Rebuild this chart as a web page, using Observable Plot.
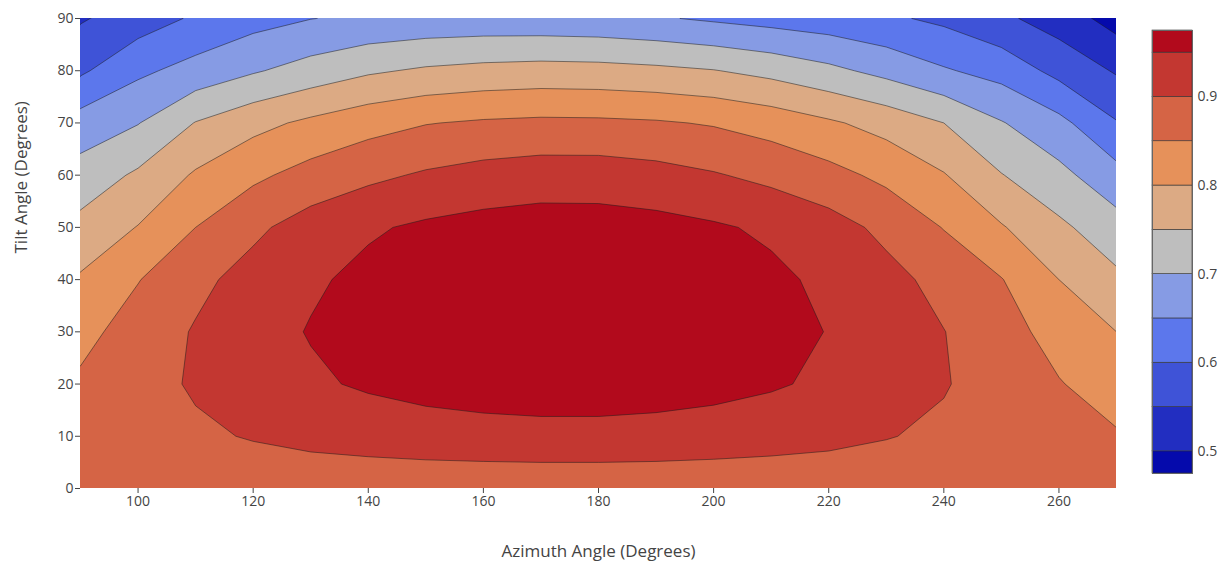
<!DOCTYPE html>
<html>
<head>
<meta charset="utf-8">
<script src="https://cdn.jsdelivr.net/npm/d3@7"></script>
<script src="https://cdn.jsdelivr.net/npm/@observablehq/plot@0.6"></script>
<style>
  body { margin: 0; background: #fff; }
  #chart { position: relative; width: 1221px; height: 564px; font-family: "Open Sans", sans-serif; }
  #chart svg { position: absolute; overflow: visible; }
</style>
</head>
<body>
<div id="chart"></div>
<script>
// Grid axes: azimuth columns and tilt rows
const azimuths = [90, 100, 110, 120, 130, 140, 150, 160, 170, 180, 190, 200, 210, 220, 230, 240, 250, 260, 270];
const tilts = [0, 10, 20, 30, 40, 50, 60, 70, 80, 90];

// Relative yield for each tilt row, one value per azimuth column
const tilt0  = [0.872, 0.872, 0.872, 0.872, 0.872, 0.872, 0.872, 0.872, 0.872, 0.872, 0.872, 0.872, 0.872, 0.872, 0.872, 0.872, 0.872, 0.872, 0.872];
const tilt10 = [0.870, 0.882, 0.893, 0.903, 0.912, 0.918, 0.923, 0.926, 0.928, 0.928, 0.926, 0.922, 0.917, 0.911, 0.902, 0.892, 0.881, 0.868, 0.855];
const tilt20 = [0.858, 0.884, 0.905, 0.925, 0.942, 0.957, 0.970, 0.980, 0.986, 0.986, 0.979, 0.969, 0.956, 0.940, 0.923, 0.903, 0.880, 0.853, 0.825];
const tilt30 = [0.835, 0.872, 0.904, 0.930, 0.953, 0.972, 0.986, 0.995, 0.999, 0.999, 0.994, 0.984, 0.970, 0.948, 0.926, 0.901, 0.871, 0.830, 0.800];
const tilt40 = [0.806, 0.848, 0.888, 0.918, 0.943, 0.962, 0.978, 0.988, 0.992, 0.991, 0.986, 0.976, 0.960, 0.940, 0.915, 0.885, 0.852, 0.800, 0.760];
const tilt50 = [0.765, 0.802, 0.850, 0.890, 0.922, 0.944, 0.958, 0.967, 0.972, 0.971, 0.966, 0.956, 0.942, 0.920, 0.888, 0.848, 0.804, 0.760, 0.720];
const tilt60 = [0.720, 0.758, 0.806, 0.840, 0.868, 0.889, 0.906, 0.918, 0.925, 0.925, 0.917, 0.904, 0.887, 0.866, 0.838, 0.803, 0.752, 0.714, 0.667];
const tilt70 = [0.672, 0.698, 0.752, 0.785, 0.810, 0.832, 0.848, 0.856, 0.860, 0.859, 0.855, 0.846, 0.830, 0.807, 0.782, 0.750, 0.703, 0.664, 0.603];
const tilt80 = [0.592, 0.640, 0.668, 0.695, 0.720, 0.743, 0.757, 0.765, 0.769, 0.767, 0.761, 0.752, 0.735, 0.712, 0.685, 0.655, 0.632, 0.585, 0.545];
const tilt90 = [0.545, 0.575, 0.607, 0.632, 0.649, 0.659, 0.665, 0.667, 0.666, 0.663, 0.655, 0.643, 0.632, 0.622, 0.608, 0.590, 0.560, 0.527, 0.480];

// Contour levels and colour bar extent
const levels = [0.5, 0.55, 0.6, 0.65, 0.7, 0.75, 0.8, 0.85, 0.9, 0.95];
const colorbarRange = [0.475, 0.975];
const colorbarTicks = [0.5, 0.6, 0.7, 0.8, 0.9];
const xTicks = [100, 120, 140, 160, 180, 200, 220, 240, 260];
const yTicks = [0, 10, 20, 30, 40, 50, 60, 70, 80, 90];

// One colour per band, low to high
const palette = ["#050aac", "#222ec1", "#3f53d7", "#5c77ec", "#869be4", "#bebebe",
                 "#dcaa84", "#e6915a", "#d56445", "#c33731", "#b20a1c"];

const rows = [tilt0, tilt10, tilt20, tilt30, tilt40, tilt50, tilt60, tilt70, tilt80, tilt90];
const grid = rows.flat(); // row-major, first row = tilt 0

const thresholds = [colorbarRange[0], ...levels];
const colorScale = {type: "threshold", domain: levels, range: palette};
const azStep = azimuths[1] - azimuths[0];
const tiltStep = tilts[1] - tilts[0];
const ink = "#444";

const main = Plot.plot({
  width: 1221,
  height: 564,
  marginLeft: 80,
  marginRight: 105,
  marginTop: 18,
  marginBottom: 76,
  style: {fontFamily: "'Open Sans', sans-serif", fontSize: "14px", color: ink, background: "transparent"},
  x: {domain: [azimuths[0], azimuths[azimuths.length - 1]]},
  y: {domain: [tilts[0], tilts[tilts.length - 1]]},
  color: colorScale,
  marks: [
    Plot.contour(grid, {
      width: azimuths.length,
      height: tilts.length,
      x1: azimuths[0] - azStep / 2,
      x2: azimuths[azimuths.length - 1] + azStep / 2,
      y1: tilts[0] - tiltStep / 2,
      y2: tilts[tilts.length - 1] + tiltStep / 2,
      fill: Plot.identity,
      thresholds,
      stroke: "#1c1c1c",
      strokeWidth: 0.6,
      strokeOpacity: 0.85,
      clip: true
    }),
    Plot.axisX({ticks: xTicks, tickSize: 5, tickPadding: 3, label: null}),
    Plot.axisY({ticks: yTicks, tickSize: 5, tickPadding: 2, label: null}),
    Plot.text(["Azimuth Angle (Degrees)"], {frameAnchor: "bottom", dy: 63, text: d => d, fontSize: 17, fill: ink, lineAnchor: "middle"}),
    Plot.text(["Tilt Angle (Degrees)"], {frameAnchor: "left", dx: -59, rotate: -90, text: d => d, fontSize: 17, fill: ink, lineAnchor: "middle"})
  ]
});

// Colour bar: one rectangle per band
const bandLow = [colorbarRange[0], ...levels];
const bandHigh = [...levels, colorbarRange[1]];
const bands = bandLow.map((lo, i) => ({lo, hi: bandHigh[i]}));

const bar = Plot.plot({
  width: 81,
  height: 500,
  marginLeft: 12,
  marginRight: 29,
  marginTop: 30,
  marginBottom: 27,
  style: {fontFamily: "'Open Sans', sans-serif", fontSize: "14px", color: ink, background: "transparent", overflow: "visible"},
  x: {domain: [0, 1], axis: null},
  y: {domain: colorbarRange},
  color: colorScale,
  marks: [
    Plot.rect(bands, {x1: 0, x2: 1, y1: "lo", y2: "hi", fill: "lo", stroke: "#333", strokeWidth: 0.6}),
    Plot.frame({stroke: "#666", strokeWidth: 1}),
    Plot.axisY({anchor: "right", ticks: colorbarTicks, tickFormat: d3.format(".1f"), tickSize: 0, tickPadding: 5, label: null})
  ]
});

const chart = document.getElementById("chart");
main.style.left = "0px";
main.style.top = "0px";
bar.style.left = "1140px";
bar.style.top = "0px";
chart.append(main, bar);
</script>
</body>
</html>
